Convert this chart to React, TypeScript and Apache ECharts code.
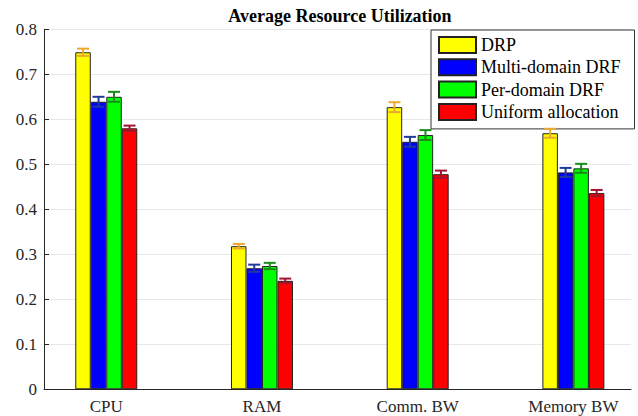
import React, { useEffect, useRef } from "react";
import * as echarts from "echarts";

const categories = ["CPU", "RAM", "Comm. BW", "Memory BW"];
const categoryPositions = [1, 2, 3, 4];
const seriesNames = ["DRP", "Multi-domain DRF", "Per-domain DRF", "Uniform allocation"];
const drpValues = [0.749, 0.318, 0.627, 0.569];
const drpErrors = [0.008, 0.005, 0.011, 0.01];
const multiValues = [0.639, 0.269, 0.55, 0.482];
const multiErrors = [0.011, 0.008, 0.011, 0.01];
const perValues = [0.65, 0.274, 0.565, 0.491];
const perErrors = [0.011, 0.007, 0.011, 0.01];
const uniformValues = [0.58, 0.241, 0.478, 0.436];
const uniformErrors = [0.006, 0.005, 0.008, 0.007];
const yTicks = [0, 0.1, 0.2, 0.3, 0.4, 0.5, 0.6, 0.7, 0.8];

const barColors = ["#ffff00", "#0000ff", "#00ff00", "#ff0000"];
const errColors = ["#eda830", "#1f3a99", "#1a8c1a", "#a2142f"];
const FONT = "'Liberation Serif', 'Times New Roman', serif";
const BAR_W = 15.5;

export default function App() {
  const ref = useRef<HTMLDivElement>(null);
  useEffect(() => {
    if (!ref.current) return;
    const chart = echarts.init(ref.current, undefined, { renderer: "svg" });
    const allValues = [drpValues, multiValues, perValues, uniformValues];
    const allErrors = [drpErrors, multiErrors, perErrors, uniformErrors];

    const barSeries = seriesNames.map((name, i) => ({
      name,
      type: "bar",
      barWidth: BAR_W,
      barGap: "0%",
      data: categoryPositions.map((x, j) => [x, allValues[i][j]]),
      itemStyle: { color: barColors[i], borderColor: "#222", borderWidth: 1 },
      z: 2,
    }));

    const errSeries = seriesNames.map((name, i) => ({
      name: name + " error",
      type: "custom",
      z: 5,
      silent: true,
      data: categoryPositions.map((x, j) => [x, allValues[i][j], allErrors[i][j]]),
      renderItem: (params: any, api: any) => {
        const x = api.value(0);
        const v = api.value(1);
        const e = api.value(2);
        const top = api.coord([x, v + e]);
        const bot = api.coord([x, v - e]);
        const cx = top[0] + (i - 1.5) * BAR_W;
        const hw = 6;
        const style = { stroke: errColors[i], lineWidth: 2, fill: "none" };
        return {
          type: "group",
          children: [
            { type: "line", shape: { x1: cx, y1: top[1], x2: cx, y2: bot[1] }, style },
            { type: "line", shape: { x1: cx - hw, y1: top[1], x2: cx + hw, y2: top[1] }, style },
            { type: "line", shape: { x1: cx - hw, y1: bot[1], x2: cx + hw, y2: bot[1] }, style },
          ],
        };
      },
    }));

    chart.setOption({
      animation: false,
      backgroundColor: "#ffffff",
      title: {
        text: "Average Resource Utilization",
        left: 335,
        top: 2,
        textAlign: "center",
        textStyle: { fontFamily: FONT, fontWeight: "bold", fontSize: 18, color: "#000" },
      },
      grid: { left: 44, right: 7, top: 29.3, bottom: 26.7, containLabel: false },
      legend: {
        data: seriesNames,
        orient: "vertical",
        left: 431,
        top: 30,
        itemWidth: 37,
        itemHeight: 16,
        itemGap: 4.3,
        padding: [6, 14, 8, 7],
        borderColor: "#333",
        borderWidth: 1,
        backgroundColor: "#fff",
        icon: "rect",
        textStyle: { fontFamily: FONT, fontSize: 18, color: "#000", lineHeight: 18 },
      },
      xAxis: {
        type: "value",
        min: 0.6,
        max: 4.37,
        axisLine: { show: true, lineStyle: { color: "#262626", width: 1 } },
        axisTick: { show: false },
        splitLine: { show: false },
        axisLabel: {
          customValues: categoryPositions,
          formatter: (v: number) => categories[Math.round(v) - 1] ?? "",
          fontFamily: FONT,
          fontSize: 17,
          color: "#262626",
          margin: 9,
        },
      },
      yAxis: {
        type: "value",
        min: 0,
        max: 0.8,
        interval: 0.1,
        axisLine: { show: true, lineStyle: { color: "#262626", width: 1 } },
        axisTick: { show: true, inside: true, length: 5, lineStyle: { color: "#262626" } },
        splitLine: { show: true, lineStyle: { color: "#e8e8e8", width: 1 } },
        axisLabel: {
          formatter: (v: number) => {
            const t = yTicks.find((k) => Math.abs(k - v) < 1e-9);
            return String(+(t ?? v).toFixed(1));
          },
          fontFamily: FONT,
          fontSize: 17,
          color: "#262626",
          margin: 7,
        },
      },
      series: [...barSeries, ...errSeries],
    });
    return () => chart.dispose();
  }, []);
  return (
    <div
      ref={ref}
      style={{ position: "absolute", left: 0, top: 0, width: 638, height: 416 }}
    />
  );
}
